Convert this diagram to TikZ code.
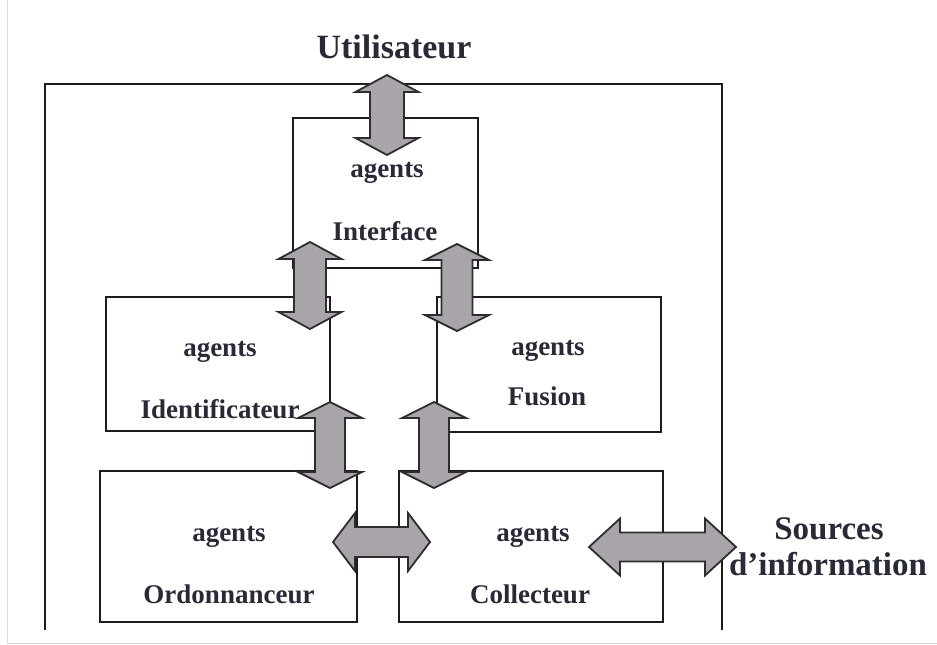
\documentclass[tikz,border=0pt]{standalone}
\usepackage{fontspec}
\setmainfont{Liberation Serif}
\usetikzlibrary{calc}

\definecolor{ink}{RGB}{40,42,56}
\definecolor{frameline}{RGB}{28,28,30}
\definecolor{arrowfill}{RGB}{168,164,170}
\definecolor{arrowline}{RGB}{45,45,48}
\definecolor{scanedge}{RGB}{218,218,226}

\tikzset{
  agentbox/.style={draw=frameline, line width=2.4pt, rectangle, inner sep=0pt},
  framestroke/.style={draw=frameline, line width=2.4pt},
  boxlabel/.style={text=ink, font=\fontsize{27}{30}\selectfont\bfseries, anchor=base, inner sep=0pt},
  outerlabel/.style={text=ink, font=\fontsize{34}{38}\selectfont\bfseries, anchor=base, inner sep=0pt},
  sourcelabel/.style={text=ink, font=\fontsize{33}{36}\selectfont\bfseries, anchor=base, inner sep=0pt},
  bigarrow/.style={fill=arrowfill, draw=arrowline, line width=1.8pt, line join=miter},
}

% Block double arrow between two tips:
% #1, #2 tips; #3 half head width; #4 half shaft width; #5 head length
\newcommand\dblarrow[5]{%
  \draw[bigarrow] (#1)
    -- ($(#1)!#5!(#2)!#3!90:(#2)$)
    -- ($(#1)!#5!(#2)!#4!90:(#2)$)
    -- ($(#2)!#5!(#1)!#4!-90:(#1)$)
    -- ($(#2)!#5!(#1)!#3!-90:(#1)$)
    -- (#2)
    -- ($(#2)!#5!(#1)!#3!90:(#1)$)
    -- ($(#2)!#5!(#1)!#4!90:(#1)$)
    -- ($(#1)!#5!(#2)!#4!-90:(#2)$)
    -- ($(#1)!#5!(#2)!#3!-90:(#2)$)
    -- cycle;
}

\begin{document}
\begin{tikzpicture}[x=1pt, y=-1pt]
  \useasboundingbox (0,0) rectangle (937,645);

  % faint edges of the page
  \draw[scanedge, line width=1pt] (7,0) -- (7,643) -- (937,643);

  % system frame, open at the bottom
  \draw[framestroke] (45,630) -- (45,84) -- (722,84) -- (722,630);

  % agent boxes
  \node[agentbox, minimum width=185pt, minimum height=150pt] (interface) at (385.5,193) {};
  \node[agentbox, minimum width=224pt, minimum height=134pt] (ident) at (218,364) {};
  \node[agentbox, minimum width=224pt, minimum height=135pt] (fusion) at (549,364.5) {};
  \node[agentbox, minimum width=257pt, minimum height=151pt] (ordo) at (228.5,546.5) {};
  \node[agentbox, minimum width=264pt, minimum height=151pt] (collect) at (531,546.5) {};

  % labels
  \node[outerlabel] (util) at (394,58) {Utilisateur};
  \node[sourcelabel] (src1) at (829,539) {Sources};
  \node[sourcelabel] (src2) at (828,575) {d’information};

  \node[boxlabel] (interfaceA) at (387,177) {agents};
  \node[boxlabel] (interfaceB) at (385,240) {Interface};
  \node[boxlabel] (identA) at (220,356) {agents};
  \node[boxlabel] (identB) at (220,418) {Identificateur};
  \node[boxlabel] (fusionA) at (548,355) {agents};
  \node[boxlabel] (fusionB) at (547,405) {Fusion};
  \node[boxlabel] (ordoA) at (229,541) {agents};
  \node[boxlabel] (ordoB) at (229,603) {Ordonnanceur};
  \node[boxlabel] (collectA) at (533,541) {agents};
  \node[boxlabel] (collectB) at (530,603) {Collecteur};

  % arrow tips
  \coordinate (userEnd) at (387,75);
  \coordinate (interfaceTop) at (387,155);
  \coordinate (interfaceL) at (310,242);
  \coordinate (identTop) at (310,329);
  \coordinate (interfaceR) at (457,244);
  \coordinate (fusionTop) at (457,331);
  \coordinate (identBot) at (330,402);
  \coordinate (ordoTop) at (330,488);
  \coordinate (fusionBot) at (434,402);
  \coordinate (collectTop) at (434,488);
  \coordinate (ordoR) at (333,542);
  \coordinate (collectL) at (430,542);
  \coordinate (collectR) at (589,547);
  \coordinate (srcEnd) at (736,547);

  % exchanges between agents
  \dblarrow{userEnd}{interfaceTop}{31.5pt}{17pt}{17pt}
  \dblarrow{interfaceL}{identTop}{31.5pt}{16pt}{17pt}
  \dblarrow{interfaceR}{fusionTop}{32pt}{15.5pt}{16pt}
  \dblarrow{identBot}{ordoTop}{32pt}{15pt}{16pt}
  \dblarrow{fusionBot}{collectTop}{32pt}{15pt}{16pt}
  \dblarrow{ordoR}{collectL}{29pt}{15pt}{22pt}
  \dblarrow{collectR}{srcEnd}{28.5pt}{14.5pt}{31pt}
\end{tikzpicture}
\end{document}
